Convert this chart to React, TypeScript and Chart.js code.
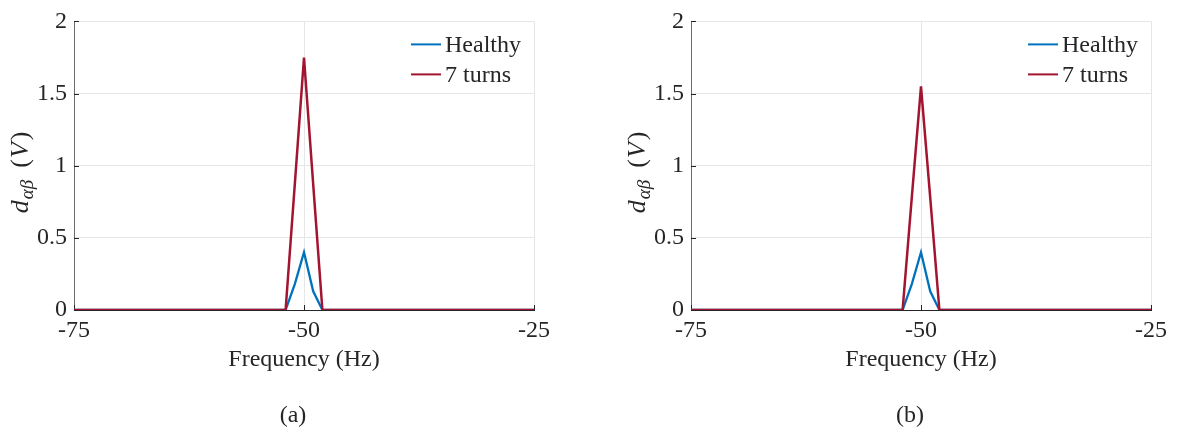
import { useEffect, useRef } from 'react';
import { Chart, registerables } from 'chart.js';

Chart.register(...registerables);

// Spectrum samples (Hz) and magnitudes for both panels
const FREQ = [-75, -52, -51, -50, -49, -48, -25];
const HEALTHY_A = [0, 0, 0.18, 0.4, 0.13, 0, 0];
const TURNS_A = [0, 0, 0.87, 1.75, 0.87, 0, 0];
const HEALTHY_B = [0, 0, 0.18, 0.4, 0.13, 0, 0];
const TURNS_B = [0, 0, 0.78, 1.55, 0.78, 0, 0];

const X_TICKS = [-75, -50, -25];
const Y_TICKS = [0, 0.5, 1, 1.5, 2];
const SERIES_NAMES = ['Healthy', '7 turns'];
const SERIES_COLORS = ['#0072BD', '#A2142F'];
const X_TITLE = 'Frequency (Hz)';
const CAPTIONS = ['(a)', '(b)'];

const FONT = '"Liberation Serif", "Times New Roman", serif';
const FS = 24;
const TEXT = '#262626';
const GRID = '#e6e6e6';
const AXIS = '#6b6b6b';

const decorPlugin = {
  id: 'decor',
  beforeDatasetsDraw(chart: any) {
    const { ctx, chartArea } = chart;
    const xs = chart.scales.x;
    const ys = chart.scales.y;
    ctx.save();
    ctx.strokeStyle = TEXT;
    ctx.lineWidth = 1;
    ctx.beginPath();
    X_TICKS.forEach((v) => {
      const px = Math.round(xs.getPixelForValue(v)) + 0.5;
      ctx.moveTo(px, chartArea.bottom);
      ctx.lineTo(px, chartArea.bottom - 5);
    });
    Y_TICKS.forEach((v) => {
      const py = Math.round(ys.getPixelForValue(v)) + 0.5;
      ctx.moveTo(chartArea.left, py);
      ctx.lineTo(chartArea.left + 5, py);
    });
    ctx.stroke();
    ctx.restore();
  },
  afterDraw(chart: any, _args: any, opts: any) {
    const { ctx, chartArea } = chart;
    const cx = (chartArea.left + chartArea.right) / 2;
    ctx.save();
    ctx.fillStyle = TEXT;

    // legend
    const lx = chartArea.left + 337;
    SERIES_NAMES.forEach((name, i) => {
      const ry = chartArea.top + 23 + i * 30;
      ctx.strokeStyle = SERIES_COLORS[i];
      ctx.lineWidth = 2;
      ctx.beginPath();
      ctx.moveTo(lx, ry);
      ctx.lineTo(lx + 30, ry);
      ctx.stroke();
      ctx.font = `${FS}px ${FONT}`;
      ctx.textAlign = 'left';
      ctx.textBaseline = 'alphabetic';
      ctx.fillText(name, lx + 34, ry + 8);
    });

    // x axis title
    ctx.font = `${FS}px ${FONT}`;
    ctx.textAlign = 'center';
    ctx.textBaseline = 'alphabetic';
    ctx.fillText(X_TITLE, cx, chartArea.bottom + 56);

    // panel caption
    ctx.fillText(opts.caption, cx - 11, chartArea.bottom + 112);

    // y axis title: d_{αβ} (V)
    const parts = [
      { t: 'd', f: `italic 26px ${FONT}`, dy: 0, gap: 1 },
      { t: 'αβ', f: `italic 19px ${FONT}`, dy: 5, gap: 12 },
      { t: '(', f: `26px ${FONT}`, dy: 0, gap: 1 },
      { t: 'V', f: `italic 26px ${FONT}`, dy: 0, gap: 2 },
      { t: ')', f: `26px ${FONT}`, dy: 0, gap: 0 },
    ];
    let total = 0;
    const widths = parts.map((p) => {
      ctx.font = p.f;
      const w = ctx.measureText(p.t).width + p.gap;
      total += w;
      return w;
    });
    ctx.translate(chartArea.left - 46, chartArea.top + 151);
    ctx.rotate(-Math.PI / 2);
    ctx.textAlign = 'left';
    let x = -total / 2;
    parts.forEach((p, i) => {
      ctx.font = p.f;
      ctx.fillText(p.t, x, p.dy);
      x += widths[i];
    });
    ctx.restore();
  },
};

function Panel(props: { left: number; width: number; chartLeft: number; chartRight: number; healthy: number[]; turns: number[]; caption: string }) {
  const ref = useRef<HTMLCanvasElement | null>(null);
  useEffect(() => {
    if (!ref.current) return;
    const toPoints = (vals: number[]) => FREQ.map((f, i) => ({ x: f, y: vals[i] }));
    const chart = new Chart(ref.current, {
      type: 'line',
      data: {
        datasets: [
          {
            label: SERIES_NAMES[0],
            data: toPoints(props.healthy),
            borderColor: SERIES_COLORS[0],
            borderWidth: 2.3,
            pointRadius: 0,
            tension: 0,
            order: 1,
          },
          {
            label: SERIES_NAMES[1],
            data: toPoints(props.turns),
            borderColor: SERIES_COLORS[1],
            borderWidth: 2.5,
            pointRadius: 0,
            tension: 0,
            order: 0,
          },
        ],
      },
      options: {
        animation: false,
        responsive: false,
        devicePixelRatio: 1,
        layout: { padding: { top: 16, right: props.width - props.chartRight, left: 0, bottom: 0 } },
        plugins: {
          legend: { display: false },
          tooltip: { enabled: false },
          decor: { caption: props.caption },
        } as any,
        scales: {
          x: {
            type: 'linear',
            min: -75,
            max: -25,
            afterBuildTicks: (s: any) => {
              s.ticks = X_TICKS.map((v) => ({ value: v }));
            },
            afterFit: (s: any) => {
              s.height = 433 - 310;
            },
            grid: { color: GRID, drawTicks: false, lineWidth: 1 },
            border: { display: true, color: TEXT, width: 1 },
            ticks: {
              color: TEXT,
              padding: 6,
              maxRotation: 0,
              font: { family: FONT, size: FS },
              callback: (v: any) => String(v),
            },
          },
          y: {
            type: 'linear',
            min: 0,
            max: 2,
            afterBuildTicks: (s: any) => {
              s.ticks = Y_TICKS.map((v) => ({ value: v }));
            },
            afterFit: (s: any) => {
              s.width = props.chartLeft;
            },
            grid: { color: GRID, drawTicks: false, lineWidth: 1 },
            border: { display: true, color: AXIS, width: 1 },
            ticks: {
              color: TEXT,
              padding: 7,
              font: { family: FONT, size: FS },
              callback: (v: any) => String(v),
            },
          },
        },
      },
      plugins: [decorPlugin],
    });
    return () => chart.destroy();
  }, []);
  return (
    <canvas
      ref={ref}
      width={props.width}
      height={433}
      style={{ position: 'absolute', left: props.left, top: 0, width: props.width, height: 433 }}
    />
  );
}

export default function App() {
  return (
    <div style={{ position: 'fixed', left: 0, top: 0, width: 1182, height: 433, background: '#ffffff', overflow: 'hidden' }}>
      <Panel left={0} width={591} chartLeft={74} chartRight={534} healthy={HEALTHY_A} turns={TURNS_A} caption={CAPTIONS[0]} />
      <Panel left={591} width={591} chartLeft={100} chartRight={560} healthy={HEALTHY_B} turns={TURNS_B} caption={CAPTIONS[1]} />
    </div>
  );
}
